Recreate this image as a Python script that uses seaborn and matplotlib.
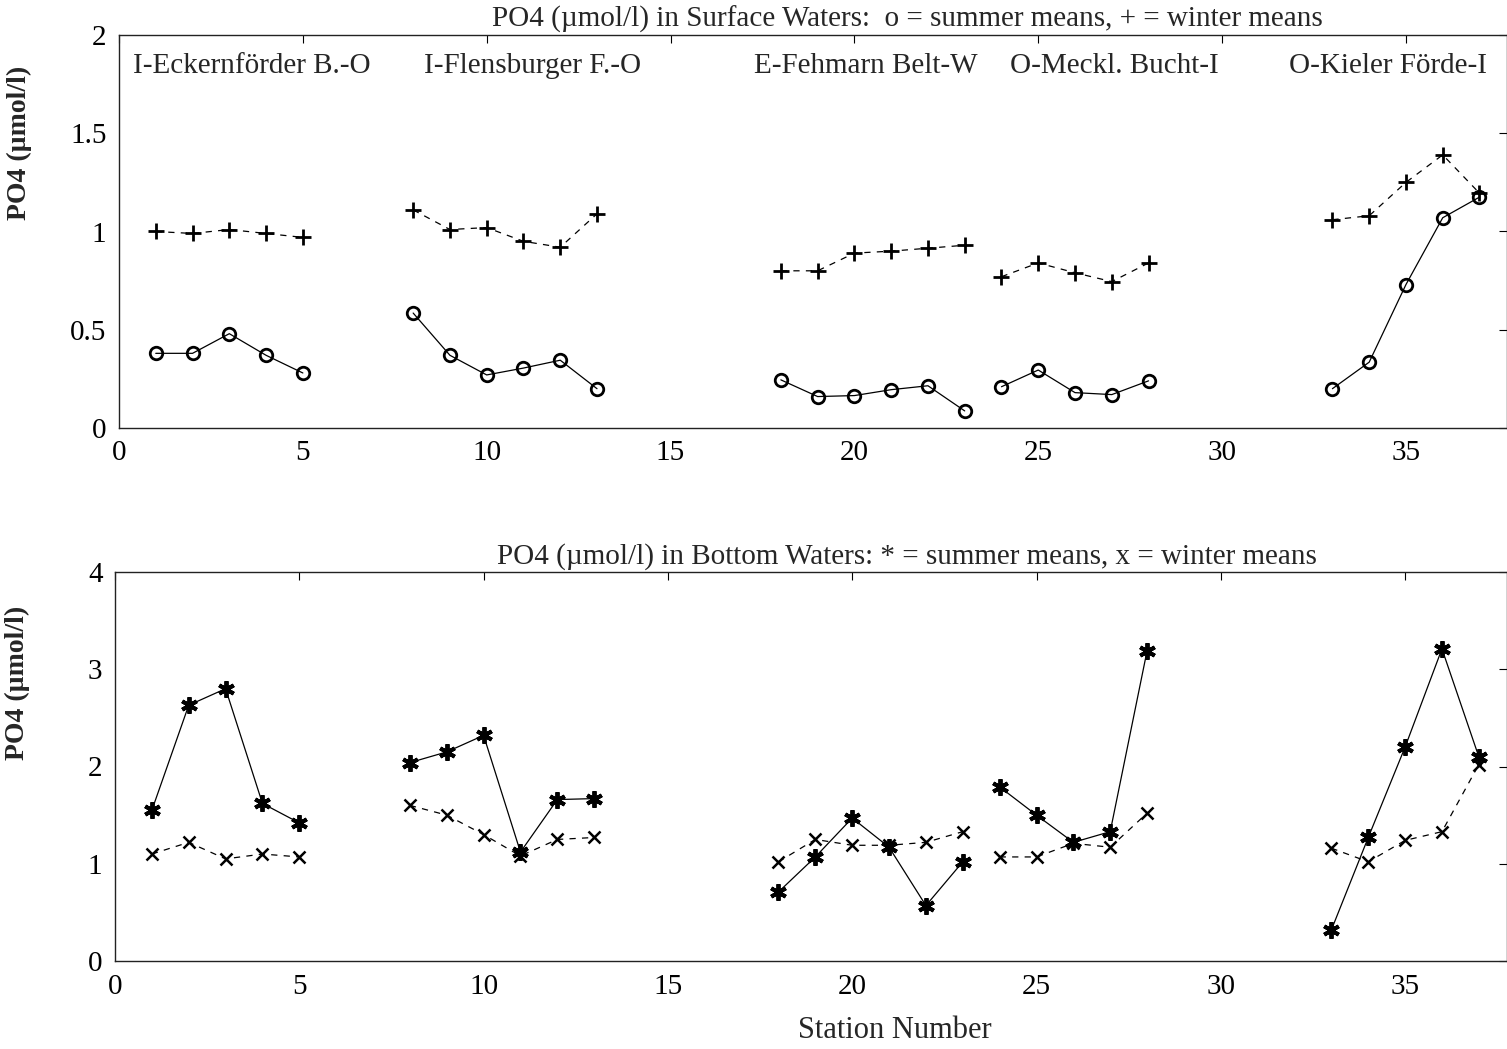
import numpy as np
import pandas as pd
import matplotlib
matplotlib.use("Agg")
import matplotlib.pyplot as plt
import seaborn as sns

# ---------------- data ----------------
station_groups = [
    [1, 2, 3, 4, 5],
    [8, 9, 10, 11, 12, 13],
    [18, 19, 20, 21, 22, 23],
    [24, 25, 26, 27, 28],
    [33, 34, 35, 36, 37],
]
region_labels = ["I-Eckernförder B.-O", "I-Flensburger F.-O", "E-Fehmarn Belt-W",
                 "O-Meckl. Bucht-I", "O-Kieler Förde-I"]
region_label_x = [3.62, 11.26, 20.32, 27.06, 34.51]

surf_summer = [
    [0.38, 0.38, 0.48, 0.37, 0.28],
    [0.585, 0.37, 0.27, 0.305, 0.345, 0.20],
    [0.245, 0.16, 0.165, 0.195, 0.215, 0.087],
    [0.21, 0.295, 0.18, 0.17, 0.24],
    [0.20, 0.335, 0.73, 1.07, 1.175],
]
surf_winter = [
    [1.0, 0.99, 1.01, 0.99, 0.97],
    [1.11, 1.01, 1.02, 0.95, 0.92, 1.09],
    [0.80, 0.80, 0.89, 0.90, 0.915, 0.93],
    [0.77, 0.84, 0.79, 0.745, 0.84],
    [1.06, 1.08, 1.25, 1.39, 1.195],
]
bot_summer = [
    [1.55, 2.63, 2.80, 1.62, 1.42],
    [2.04, 2.15, 2.32, 1.12, 1.66, 1.67],
    [0.71, 1.07, 1.47, 1.17, 0.57, 1.02],
    [1.79, 1.50, 1.22, 1.33, 3.19],
    [0.32, 1.27, 2.20, 3.21, 2.10],
]
bot_winter = [
    [1.10, 1.22, 1.05, 1.10, 1.07],
    [1.60, 1.50, 1.30, 1.08, 1.25, 1.27],
    [1.02, 1.25, 1.19, 1.19, 1.22, 1.33],
    [1.07, 1.07, 1.21, 1.17, 1.52],
    [1.16, 1.02, 1.24, 1.33, 2.02],
]

x_ticks = [0, 5, 10, 15, 20, 25, 30, 35]
top_yticks = [0, 0.5, 1, 1.5, 2]
top_yticklabels = ["0", "0.5", "1", "1.5", "2"]
bot_yticks = [0, 1, 2, 3, 4]
bot_yticklabels = ["0", "1", "2", "3", "4"]

top_title = "PO4 (\u00b5mol/l) in Surface Waters:  o = summer means, + = winter means"
bot_title = "PO4 (\u00b5mol/l) in Bottom Waters: * = summer means, x = winter means"
ylabel = "PO4 (\u00b5mol/l)"
xlabel = "Station Number"

# ---------------- style ----------------
sns.set_style("white")
plt.rcParams["font.family"] = ["Liberation Serif", "DejaVu Serif"]

W, H = 1507, 1049
fig = plt.figure(figsize=(W / 100, H / 100), dpi=100)

ax1 = fig.add_axes([119 / W, 1 - 428 / H, (W - 119) / W, (428 - 35) / H])
ax2 = fig.add_axes([115 / W, 1 - 961 / H, (W - 115) / W, (961 - 572) / H])


def build_df(groups, values, season):
    rows = []
    for gi, (st, vals) in enumerate(zip(groups, values)):
        for s, v in zip(st, vals):
            rows.append({"station": s, "value": v, "group": gi, "season": season})
    return pd.DataFrame(rows)


def draw(ax, df, marker, ls, ms, mfc, mew):
    for g, sub in df.groupby("group"):
        sns.lineplot(data=sub, x="station", y="value", ax=ax, color="black",
                     linewidth=0.9, linestyle=ls, marker=marker, markersize=ms,
                     markerfacecolor=mfc, markeredgecolor="black",
                     markeredgewidth=mew, estimator=None, sort=False, legend=False)


asterisk = (6, 2, 0)
draw(ax1, build_df(station_groups, surf_summer, "summer"), "o", "-", 9, "none", 2.0)
draw(ax1, build_df(station_groups, surf_winter, "winter"), "+", (0, (5, 5)), 11, "black", 2.0)
draw(ax2, build_df(station_groups, bot_summer, "summer"), asterisk, "-", 12, "black", 2.8)
draw(ax2, build_df(station_groups, bot_winter, "winter"), "x", (0, (5, 5)), 9, "black", 1.8)

ax1.set_xlim(0, (W - 119) / 36.77)
ax1.set_ylim(0, 2)
ax2.set_xlim(0, (W - 115) / 36.86)
ax2.set_ylim(0, 4)

for ax, yt, ytl in [(ax1, top_yticks, top_yticklabels), (ax2, bot_yticks, bot_yticklabels)]:
    ax.set_xticks(x_ticks)
    ax.set_xticklabels([str(t) for t in x_ticks])
    ax.set_yticks(yt)
    ax.set_yticklabels(ytl)
    ax.tick_params(direction="in", length=6, width=0.8, top=True, right=True,
                   labelsize=21, colors="black", pad=9)
    for sp in ax.spines.values():
        sp.set_color("#222222")
        sp.set_linewidth(1.0)
        sp.set_visible(True)
    ax.set_xlabel("")
    ax.set_ylabel(ylabel, fontsize=20, fontweight="bold")
    ax.grid(False)

ax1.yaxis.set_label_coords((32 - 119) / (W - 119), (428 - 143) / (428 - 35))
ax2.yaxis.set_label_coords((30 - 115) / (W - 115), (961 - 683) / (961 - 572))

for lab, lx in zip(region_labels, region_label_x):
    ax1.text(lx, 1.842, lab, ha="center", va="center", fontsize=21)

fig.text(907 / W, 1 - 19 / H, top_title, ha="center", va="center", fontsize=21)
fig.text(907 / W, 1 - 557 / H, bot_title, ha="center", va="center", fontsize=21)
fig.text(895 / W, 1 - 1031 / H, xlabel, ha="center", va="center", fontsize=22)

fig.savefig("out.png", dpi=100)
